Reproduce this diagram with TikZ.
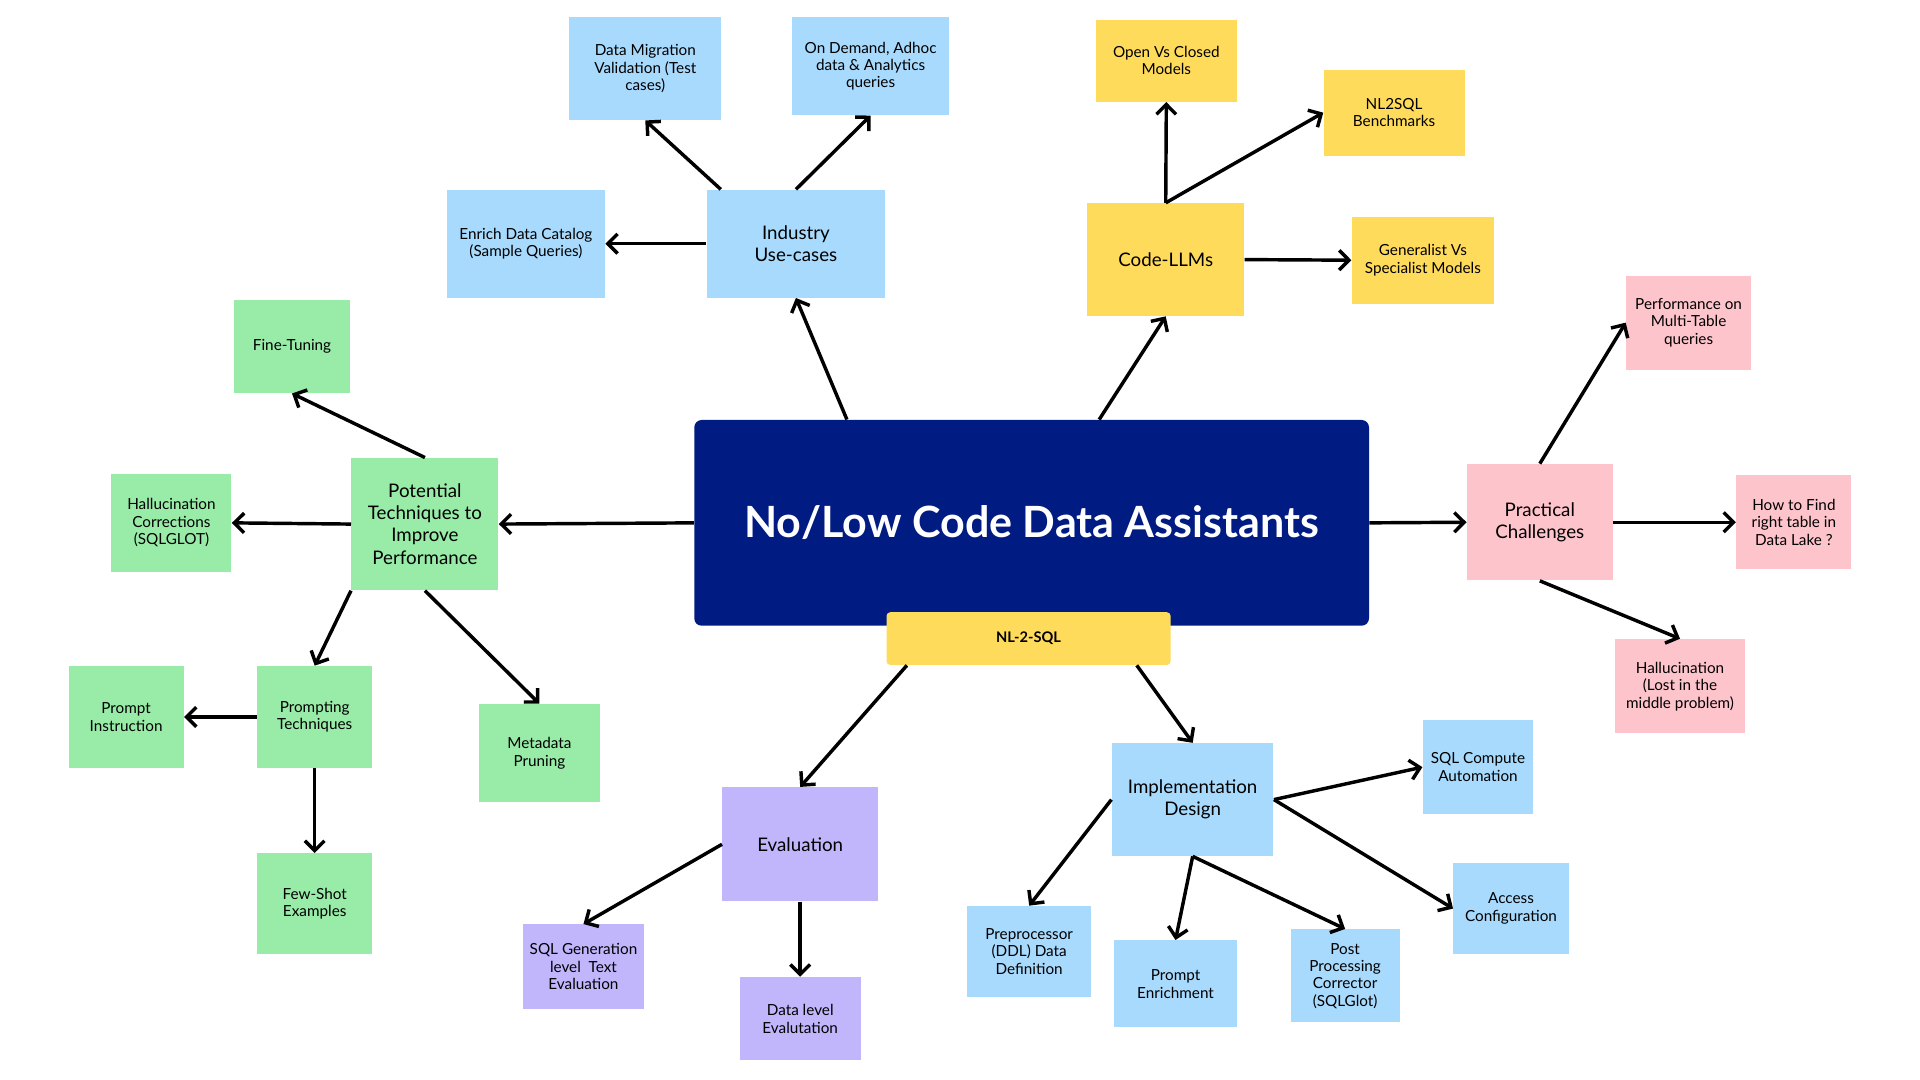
\documentclass[tikz,border=0pt]{standalone}
\usepackage{fontspec}
\setmainfont{Lato}
\usetikzlibrary{arrows.meta}

\definecolor{navy}{HTML}{001B82}
\definecolor{skyblue}{HTML}{A8DAFD}
\definecolor{sunny}{HTML}{FFDB5C}
\definecolor{mint}{HTML}{98ECA8}
\definecolor{blush}{HTML}{FEC4CC}
\definecolor{lilac}{HTML}{C1B6FC}

\tikzset{
    box/.style={rectangle, align=center, inner sep=1pt, font=\fontsize{7.1}{8.1}\selectfont},
    bigbox/.style={box, font=\fontsize{8.7}{10.3}\selectfont},
    arr/.style={-{Straight Barb[length=1.6mm, width=3.2mm, line width=1.6pt]}, line width=1.6pt, black}
}

\begin{document}
\begin{tikzpicture}[x=0.2mm, y=-0.2mm]
    \useasboundingbox[fill=white] (0,0) rectangle (1568,882);

    % Draw the central box
    \node[fill=navy, rounded corners=1.2mm, minimum width=110.2mm, minimum height=33.6mm,
          text=white, font=\fontsize{20}{24}\selectfont\bfseries] (main) at (842.5,427) {No/Low Code Data Assistants};
    \node[fill=sunny, rounded corners=0.6mm, minimum width=46.4mm, minimum height=8.6mm,
          font=\fontsize{6.8}{8}\selectfont\bfseries] (nl) at (840,521.5) {NL-2-SQL};

    % Industry use-cases
    \node[bigbox, fill=skyblue, minimum width=29.2mm, minimum height=17.6mm] (ind) at (650,199) {Industry\\Use-cases};
    \node[box, fill=skyblue, minimum width=25.8mm, minimum height=17.6mm] (enr) at (429.5,199) {Enrich Data Catalog\\(Sample Queries)};
    \node[box, fill=skyblue, minimum width=24.8mm, minimum height=16.8mm] (mig) at (527,56) {Data Migration\\Validation (Test\\cases)};
    \node[box, fill=skyblue, minimum width=25.6mm, minimum height=16mm] (dem) at (711,54) {On Demand, Adhoc\\data \& Analytics\\queries};

    % Code-LLMs
    \node[bigbox, fill=sunny, minimum width=25.6mm, minimum height=18.4mm] (code) at (952,212) {Code-LLMs};
    \node[box, fill=sunny, minimum width=23mm, minimum height=13.4mm] (open) at (952.5,49.5) {Open Vs Closed\\Models};
    \node[box, fill=sunny, minimum width=23mm, minimum height=14mm] (bench) at (1138.5,92) {NL2SQL\\Benchmarks};
    \node[box, fill=sunny, minimum width=23.2mm, minimum height=14.2mm] (gen) at (1162,212.5) {Generalist Vs\\Specialist Models};

    % Practical challenges
    \node[bigbox, fill=blush, minimum width=23.8mm, minimum height=19mm] (prac) at (1257.5,426.5) {Practical\\Challenges};
    \node[box, fill=blush, minimum width=20.4mm, minimum height=15.4mm] (perf) at (1379,263.5) {Performance on\\Multi-Table\\queries};
    \node[box, fill=blush, minimum width=18.8mm, minimum height=15.4mm] (how) at (1465,426.5) {How to Find\\right table in\\Data Lake ?};
    \node[box, fill=blush, minimum width=21.2mm, minimum height=15.4mm] (lost) at (1372,560.5) {Hallucination\\(Lost in the\\middle problem)};

    % Implementation design
    \node[bigbox, fill=skyblue, minimum width=26.4mm, minimum height=18.4mm] (impl) at (974,653) {Implementation\\Design};
    \node[box, fill=skyblue, minimum width=18mm, minimum height=15.4mm] (sqlc) at (1207,626.5) {SQL Compute\\Automation};
    \node[box, fill=skyblue, minimum width=18.8mm, minimum height=14.8mm] (acc) at (1234,742) {Access\\Configuration};
    \node[box, fill=skyblue, minimum width=20.2mm, minimum height=14.8mm] (pre) at (840.5,777) {Preprocessor\\(DDL) Data\\Definition};
    \node[box, fill=skyblue, minimum width=20mm, minimum height=14.2mm] (penr) at (960,803.5) {Prompt\\Enrichment};
    \node[box, fill=skyblue, minimum width=17.8mm, minimum height=15.2mm] (post) at (1098.5,797) {Post\\Processing\\Corrector\\(SQLGlot)};

    % Evaluation
    \node[bigbox, fill=lilac, minimum width=25.4mm, minimum height=18.6mm] (eval) at (653.5,689.5) {Evaluation};
    \node[box, fill=lilac, minimum width=19.8mm, minimum height=13.8mm] (sqlg) at (476.5,789.5) {SQL Generation\\level~~Text\\Evaluation};
    \node[box, fill=lilac, minimum width=19.8mm, minimum height=13.6mm] (dlev) at (653.5,832) {Data level\\Evalutation};

    % Potential techniques
    \node[bigbox, fill=mint, minimum width=24mm, minimum height=21.6mm] (pot) at (347,428) {Potential\\Techniques to\\Improve\\Performance};
    \node[box, fill=mint, minimum width=19mm, minimum height=15.2mm] (fine) at (238.5,283) {Fine-Tuning};
    \node[box, fill=mint, minimum width=19.6mm, minimum height=16mm] (hcor) at (140,427) {Hallucination\\Corrections\\(SQLGLOT)};
    \node[box, fill=mint, minimum width=18.8mm, minimum height=16.6mm] (prm) at (257,585.5) {Prompting\\Techniques};
    \node[box, fill=mint, minimum width=18.8mm, minimum height=16.6mm] (pins) at (103,585.5) {Prompt\\Instruction};
    \node[box, fill=mint, minimum width=18.8mm, minimum height=16.4mm] (few) at (257,738) {Few-Shot\\Examples};
    \node[box, fill=mint, minimum width=19.8mm, minimum height=16mm] (meta) at (440.5,615) {Metadata\\Pruning};

    % Arrows from the central box
    \draw[arr] ([xshift=25mm]main.north west) -- (ind.south);
    \draw[arr] ([xshift=66.2mm]main.north west) -- (code.south);
    \draw[arr] (main.east) -- (prac.west);
    \draw[arr] (main.west) -- (pot.east);
    \draw[arr] ([xshift=3.4mm]nl.south west) -- (eval.north);
    \draw[arr] ([xshift=-5.6mm]nl.south east) -- (impl.north);

    % Arrows to the leaves
    \draw[arr] ([xshift=2.4mm]ind.north west) -- (mig.south);
    \draw[arr] (ind.north) -- (dem.south);
    \draw[arr] (ind.west) -- (enr.east);
    \draw[arr] (code.north) -- (open.south);
    \draw[arr] (code.north) -- (bench.west);
    \draw[arr] (code.east) -- (gen.west);
    \draw[arr] (prac.north) -- (perf.west);
    \draw[arr] (prac.east) -- (how.west);
    \draw[arr] (prac.south) -- (lost.north);
    \draw[arr] (impl.east) -- (sqlc.west);
    \draw[arr] (impl.east) -- (acc.west);
    \draw[arr] (impl.west) -- (pre.north);
    \draw[arr] (impl.south) -- (penr.north);
    \draw[arr] (impl.south) -- (post.north);
    \draw[arr] (eval.west) -- (sqlg.north);
    \draw[arr] (eval.south) -- (dlev.north);
    \draw[arr] (pot.north) -- (fine.south);
    \draw[arr] (pot.west) -- (hcor.east);
    \draw[arr] (pot.south west) -- (prm.north);
    \draw[arr] (pot.south) -- (meta.north);
    \draw[arr] (prm.west) -- (pins.east);
    \draw[arr] (prm.south) -- (few.north);
\end{tikzpicture}
\end{document}
